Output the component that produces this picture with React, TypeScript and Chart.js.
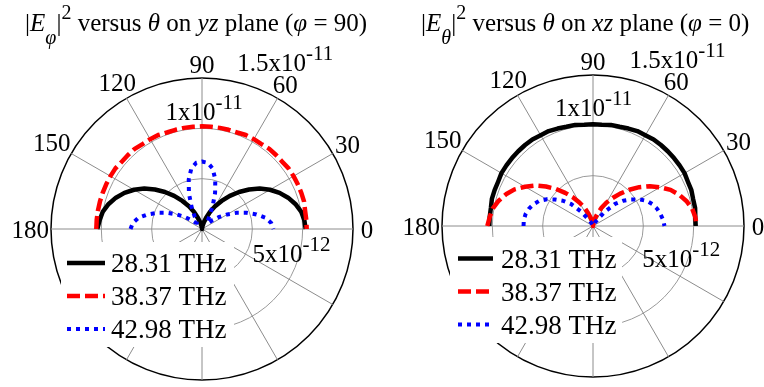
import React, { useEffect, useRef } from 'react';
import { Chart, registerables } from 'chart.js';

Chart.register(...registerables);

// Polar angle θ (degrees) of every sample
const thetaDeg = [0, 5, 10, 15, 20, 25, 30, 35, 40, 45, 50, 55, 60, 65, 70, 75, 80, 85, 90, 95, 100, 105, 110, 115, 120, 125, 130, 135, 140, 145, 150, 155, 160, 165, 170, 175, 180];

// |E_phi|^2 on yz plane (phi = 90), units of 1e-11
const yz2831 = [1.03, 1.02, 1.0, 0.96, 0.91, 0.85, 0.78, 0.7, 0.61, 0.52, 0.43, 0.34, 0.26, 0.19, 0.12, 0.07, 0.03, 0.01, 0.0, 0.01, 0.03, 0.07, 0.12, 0.19, 0.26, 0.34, 0.43, 0.52, 0.61, 0.7, 0.78, 0.85, 0.91, 0.96, 1.0, 1.02, 1.04];
const yz3837 = [1.04, 1.04, 1.04, 1.05, 1.05, 1.05, 1.05, 1.05, 1.04, 1.04, 1.04, 1.03, 1.03, 1.03, 1.02, 1.02, 1.02, 1.02, 1.02, 1.02, 1.02, 1.02, 1.02, 1.03, 1.03, 1.03, 1.04, 1.04, 1.04, 1.05, 1.05, 1.05, 1.05, 1.05, 1.05, 1.05, 1.05];
const yz4298 = [0.71, 0.69, 0.64, 0.56, 0.47, 0.38, 0.29, 0.21, 0.14, 0.09, 0.08, 0.1, 0.15, 0.25, 0.38, 0.51, 0.61, 0.66, 0.67, 0.66, 0.61, 0.51, 0.38, 0.25, 0.15, 0.1, 0.08, 0.09, 0.14, 0.21, 0.29, 0.38, 0.47, 0.56, 0.64, 0.69, 0.71];

// |E_theta|^2 on xz plane (phi = 0), units of 1e-11
const xz2831 = [1.02, 1.02, 1.03, 1.03, 1.04, 1.04, 1.05, 1.05, 1.05, 1.05, 1.05, 1.05, 1.04, 1.04, 1.03, 1.02, 1.02, 1.01, 1.01, 1.01, 1.02, 1.02, 1.03, 1.04, 1.04, 1.05, 1.05, 1.05, 1.05, 1.05, 1.05, 1.04, 1.04, 1.04, 1.03, 1.03, 1.03];
const xz3837 = [1.03, 1.02, 1.0, 0.96, 0.91, 0.85, 0.77, 0.69, 0.6, 0.51, 0.42, 0.34, 0.27, 0.2, 0.13, 0.08, 0.04, 0.015, 0.0, 0.015, 0.04, 0.08, 0.13, 0.2, 0.27, 0.35, 0.43, 0.52, 0.61, 0.7, 0.78, 0.86, 0.92, 0.97, 1.01, 1.03, 1.05];
const xz4298 = [0.71, 0.7, 0.68, 0.66, 0.63, 0.59, 0.53, 0.46, 0.39, 0.31, 0.19, 0.09, 0.04, 0.01, 0.0, 0.0, 0.0, 0.0, 0.0, 0.0, 0.0, 0.0, 0.0, 0.01, 0.04, 0.09, 0.19, 0.31, 0.39, 0.46, 0.53, 0.59, 0.63, 0.66, 0.68, 0.69, 0.69];

const seriesLabels = ['28.31 THz', '38.37 THz', '42.98 THz'];

// Angle tick labels
const angleTickValues = [0, 30, 60, 90, 120, 150, 180];
const angleTickLabels = ['0', '30', '60', '90', '120', '150', '180'];

// Radial tick labels (units of 1e-11)
const radialTickValues = [0.5, 1, 1.5];
const radialTickMantissa = ['5x10', '1x10', '1.5x10'];
const radialTickExponent = ['-12', '-11', '-11'];

const STEP = 5;
const N_SPOKES = 360 / STEP;
const FONT = '"Liberation Serif", "DejaVu Serif", serif';

const styles = [
  { color: '#000000', dash: [] as number[], width: 4.5, order: 3 },
  { color: '#ff0000', dash: [13, 5], width: 4.5, order: 2 },
  { color: '#0000ff', dash: [4, 5], width: 4, order: 1 },
];

// radar index i sits at screen angle 5*i clockwise from the right, i.e. theta = -5*i
function toRadar(values: number[]) {
  const out: (number | null)[] = [];
  for (let i = 0; i < N_SPOKES; i++) {
    const th = (360 - i * STEP) % 360;
    const k = thetaDeg.indexOf(th);
    out.push(k >= 0 ? values[k] : null);
  }
  return out;
}

type Layout = {
  padding: { left: number; top: number; right: number; bottom: number };
  legendBox: [number, number, number, number];
  legendRows: number[];
  sampleX: [number, number];
  textX: number;
  tickPlace: { angle: number; extra: number }[];
};

function drawPolarDecor(chart: any, layout: Layout) {
  const s = chart.scales.r;
  const cx = s.xCenter;
  const cy = s.yCenter;
  const R = s.drawingArea;
  const ctx: CanvasRenderingContext2D = chart.ctx;
  ctx.save();

  // legend
  const [bx, by, bw, bh] = layout.legendBox;
  ctx.fillStyle = '#ffffff';
  ctx.fillRect(cx + bx, cy + by, bw, bh);
  chart.data.datasets.forEach((ds: any, i: number) => {
    const y = cy + layout.legendRows[i];
    ctx.beginPath();
    ctx.setLineDash(ds.borderDash || []);
    ctx.lineWidth = ds.borderWidth;
    ctx.strokeStyle = ds.borderColor;
    ctx.lineCap = 'butt';
    ctx.moveTo(cx + layout.sampleX[0], y);
    ctx.lineTo(cx + layout.sampleX[1], y);
    ctx.stroke();
    ctx.setLineDash([]);
    ctx.fillStyle = '#000000';
    ctx.font = `27px ${FONT}`;
    ctx.textAlign = 'left';
    ctx.textBaseline = 'alphabetic';
    ctx.fillText(ds.label, cx + layout.textX, y + 9);
  });

  // angle labels
  ctx.font = `25px ${FONT}`;
  ctx.fillStyle = '#000000';
  ctx.textAlign = 'center';
  ctx.textBaseline = 'alphabetic';
  angleTickValues.forEach((deg, i) => {
    const txt = angleTickLabels[i];
    const a = (deg * Math.PI) / 180;
    const c = Math.cos(a);
    const sn = Math.sin(a);
    const halfW = ctx.measureText(txt).width / 2;
    const halfH = 8.5;
    const support = halfW * Math.abs(c) + halfH * Math.abs(sn);
    const d = R + Math.max(14, support + 2);
    const x = cx + d * c;
    const y = cy - d * sn;
    ctx.fillText(txt, x, y + halfH);
  });

  // radial tick labels
  ctx.textAlign = 'left';
  radialTickValues.forEach((v, i) => {
    const r = s.getDistanceFromCenterForValue(v);
    const p = layout.tickPlace[i];
    const a = (p.angle * Math.PI) / 180;
    const x = cx + (r + p.extra) * Math.cos(a);
    const y = cy - (r + p.extra) * Math.sin(a);
    ctx.font = `25px ${FONT}`;
    ctx.fillText(radialTickMantissa[i], x, y);
    const w = ctx.measureText(radialTickMantissa[i]).width;
    ctx.font = `21px ${FONT}`;
    ctx.fillText(radialTickExponent[i], x + w, y - 11);
  });

  ctx.restore();
}

function makeConfig(series: number[][], layout: Layout): any {
  return {
    type: 'radar',
    data: {
      labels: Array.from({ length: N_SPOKES }, (_, i) => String((360 - i * STEP) % 360)),
      datasets: series.map((vals, i) => ({
        label: seriesLabels[i],
        data: toRadar(vals),
        borderColor: styles[i].color,
        backgroundColor: styles[i].color,
        borderDash: styles[i].dash,
        borderWidth: styles[i].width,
        borderCapStyle: 'butt',
        borderJoinStyle: 'round',
        pointRadius: 0,
        pointHoverRadius: 0,
        fill: false,
        tension: 0,
        spanGaps: false,
        order: styles[i].order,
      })),
    },
    options: {
      responsive: false,
      animation: false,
      devicePixelRatio: 1,
      events: [],
      layout: { padding: layout.padding },
      plugins: {
        legend: { display: false },
        tooltip: { enabled: false },
        title: { display: false },
      },
      scales: {
        r: {
          min: 0,
          max: 1.5,
          startAngle: 90,
          ticks: { display: false, stepSize: 0.5 },
          pointLabels: { display: false },
          grid: {
            circular: true,
            color: (c: any) => (c.index === 3 ? '#000000' : '#9a9a9a'),
            lineWidth: (c: any) => (c.index === 3 ? 1.5 : 1),
          },
          angleLines: {
            color: '#8c8c8c',
            lineWidth: (c: any) => (c.index % 6 === 0 ? 1 : 0),
          },
        },
      },
    },
    plugins: [
      {
        id: 'polarDecor',
        afterDatasetsDraw(chart: any) {
          drawPolarDecor(chart, layout);
        },
      },
    ],
  };
}

const leftLayout: Layout = {
  padding: { left: 51, top: 78, right: 28, bottom: 6 },
  legendBox: [-141, 13, 173, 105],
  legendRows: [34, 67, 100],
  sampleX: [-135, -97],
  textX: -91,
  tickPlace: [
    { angle: -33, extra: 10 },
    { angle: 108.5, extra: 14 },
    { angle: 77.4, extra: 11 },
  ],
};

const rightLayout: Layout = {
  padding: { left: 60, top: 75, right: 19, bottom: 9 },
  legendBox: [-143, 11, 172, 106],
  legendRows: [32.5, 65.5, 98.5],
  sampleX: [-135, -100],
  textX: -92,
  tickPlace: [
    { angle: -40, extra: 14 },
    { angle: 109, extra: 16 },
    { angle: 77, extra: 11 },
  ],
};

function PolarPanel({ series, layout }: { series: number[][]; layout: Layout }) {
  const ref = useRef<HTMLCanvasElement | null>(null);
  useEffect(() => {
    if (!ref.current) return;
    const chart = new Chart(ref.current, makeConfig(series, layout));
    return () => chart.destroy();
  }, []);
  return <canvas ref={ref} width={382} height={387} style={{ display: 'block', width: 382, height: 387 }} />;
}

const titleStyle: React.CSSProperties = {
  position: 'absolute',
  top: 10,
  fontFamily: FONT,
  fontSize: 25,
  lineHeight: '25px',
  whiteSpace: 'nowrap',
  color: '#000',
};
const subStyle: React.CSSProperties = { fontSize: 20, verticalAlign: -13, lineHeight: 0, fontStyle: 'italic' };
const supStyle: React.CSSProperties = { fontSize: 20, verticalAlign: 12, lineHeight: 0 };

export default function App() {
  return (
    <div style={{ position: 'fixed', left: 0, top: 0, width: 764, height: 387, background: '#ffffff', overflow: 'hidden' }}>
      <div style={{ position: 'absolute', left: 0, top: 0 }}>
        <PolarPanel series={[yz2831, yz3837, yz4298]} layout={leftLayout} />
      </div>
      <div style={{ position: 'absolute', left: 382, top: 0 }}>
        <PolarPanel series={[xz2831, xz3837, xz4298]} layout={rightLayout} />
      </div>
      <div style={{ ...titleStyle, left: 25 }}>
        |<i>E</i><span style={subStyle}>φ</span>|<span style={supStyle}>2</span> versus <i>θ</i> on <i>yz</i> plane (<i>φ</i> = 90)
      </div>
      <div style={{ ...titleStyle, left: 421 }}>
        |<i>E</i><span style={subStyle}>θ</span>|<span style={supStyle}>2</span> versus <i>θ</i> on <i>xz</i> plane (<i>φ</i> = 0)
      </div>
    </div>
  );
}
